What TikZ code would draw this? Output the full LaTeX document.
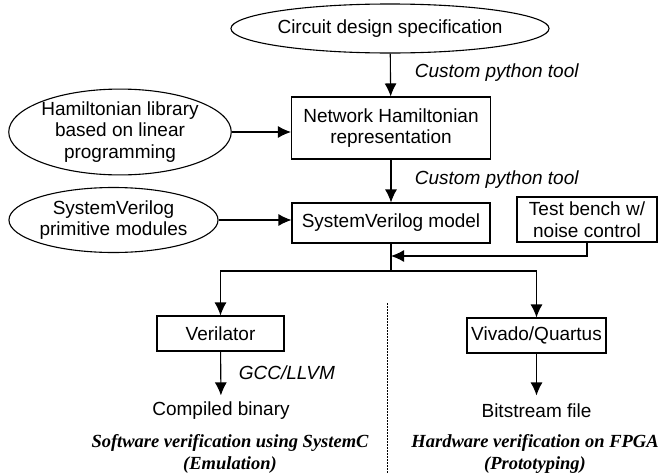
\documentclass[tikz,border=0pt]{standalone}
\usepackage{fontspec}
\setmainfont{Liberation Sans}
\newfontfamily\timesfont{Liberation Serif}
\usepackage{tikz}
\usetikzlibrary{positioning}
\usetikzlibrary{arrows.meta}
\usetikzlibrary{shapes}

\begin{document}
\begin{tikzpicture}[x=1pt,y=-1pt,>={Latex[length=13pt,width=12pt]},line width=1.1pt,
  font=\fontsize{19}{21.5}\selectfont,
  oval/.style={draw,ellipse,inner sep=0pt,align=center},
  box/.style={draw,rectangle,inner sep=0pt,align=center},
  tool/.style={anchor=west,font=\fontsize{19}{21.5}\selectfont\itshape},
  mode/.style={align=center,font=\fontsize{18.5}{22}\selectfont\timesfont\bfseries\itshape}]

\useasboundingbox (0,0) rectangle (668,474);

\node[oval,minimum width=314pt,minimum height=49pt] (spec) at (390,28.5) {Circuit design specification};
\node[oval,minimum width=220pt,minimum height=83pt] (hamlib) at (120,132) {Hamiltonian library\\based on linear\\programming};
\node[box,minimum width=199pt,minimum height=62pt] (net) at (391,128) {Network Hamiltonian\\representation};
\node[oval,minimum width=207pt,minimum height=65pt] (prim) at (113.5,220) {SystemVerilog\\primitive modules};
\node[box,minimum width=198pt,minimum height=40pt] (model) at (391,223) {SystemVerilog model};
\node[box,minimum width=140pt,minimum height=45pt] (bench) at (587,219.5) {Test bench w/\\noise control};

\node[box,minimum width=127pt,minimum height=35pt] (verilator) at (220.5,333.5) {Verilator};
\node[box,minimum width=139pt,minimum height=35pt] (vivado) at (536.5,335.5) {Vivado/Quartus};
\node[inner sep=0pt,minimum height=30pt] (binary) at (221,411) {Compiled binary};
\node[inner sep=0pt,minimum height=30pt] (bitstream) at (536.5,411) {Bitstream file};
\node[mode] (sw) at (230,453.5) {Software verification using SystemC\\(Emulation)};
\node[mode] (hw) at (535,453.5) {Hardware verification on FPGA\\(Prototyping)};

\node[tool] (py1) at (411,73) {Custom python tool};
\node[tool] (py2) at (411,180) {Custom python tool};
\node[tool] (gcc) at (235,373) {GCC/LLVM};

\coordinate (merge) at (391,256);
\coordinate (split) at (391,271);

\draw[->] (spec) -- (net);
\draw[->] (hamlib.east) -- (hamlib.east -| net.west);
\draw[->] (net) -- (model);
\draw[->] (prim.east) -- (prim.east -| model.west);
\draw (model.south) -- (split);
\draw[->] (bench.south) |- (merge);
\draw[->] (split) -| (verilator.north);
\draw[->] (split) -| (vivado.north);
\draw[->] (verilator) -- (binary);
\draw[->] (vivado) -- (bitstream);

\draw[line width=1pt,dash pattern=on 1.5pt off 1.5pt] (387,303) -- (387,474);
\end{tikzpicture}
\end{document}
